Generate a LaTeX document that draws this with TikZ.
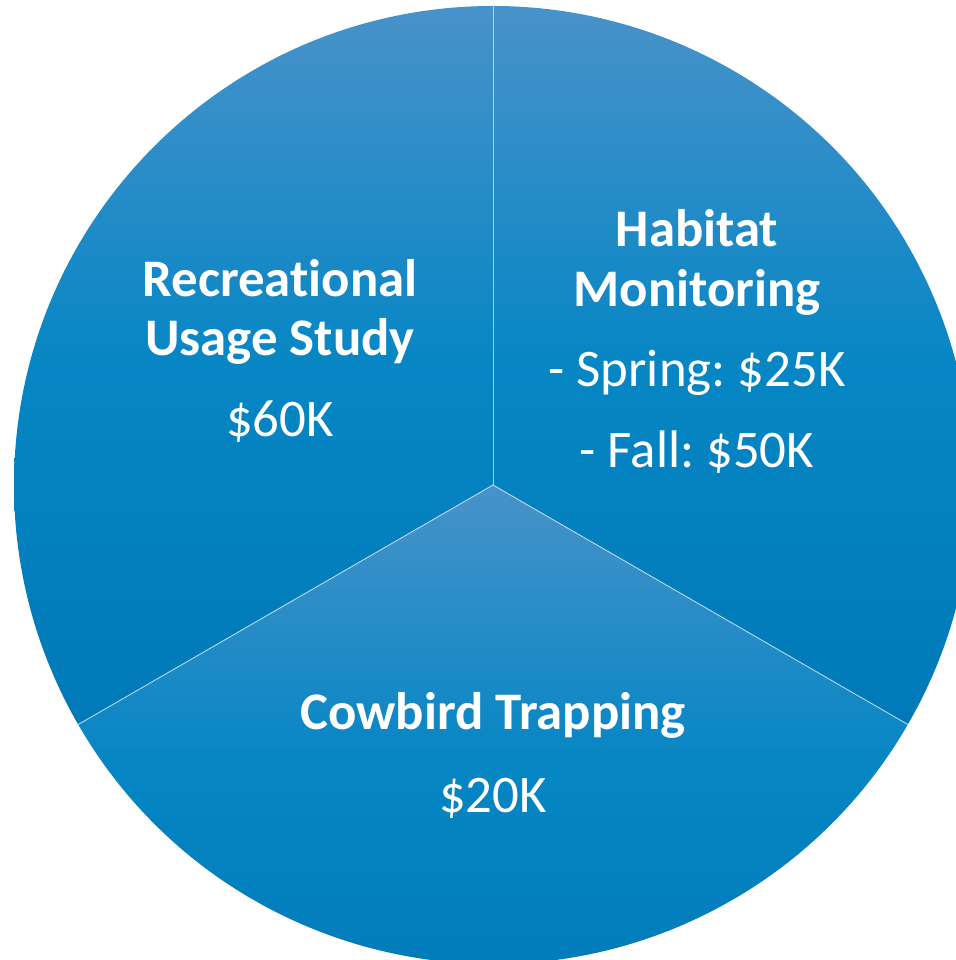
\documentclass[tikz,border=0pt]{standalone}
\usepackage{fontspec}
\setmainfont{Carlito}[Ligatures={NoCommon}, Contextuals={NoAlternate}]
\usetikzlibrary{calc}
\frenchspacing
\definecolor{gtop}{RGB}{72,146,202}
\definecolor{gmid}{RGB}{6,134,196}
\definecolor{gbot}{RGB}{0,121,184}
\tikzset{
  sector/.style={top color=gtop, bottom color=gbot, middle color=gmid},
  sepline/.style={draw=white, draw opacity=0.6, line width=0.75pt},
  title/.style={anchor=base, text=white, font=\fontsize{39.6}{47}\selectfont\bfseries\frenchspacing, inner sep=0pt},
  value/.style={anchor=base, text=white, font=\fontsize{39.6}{47}\selectfont\frenchspacing, inner sep=0pt}
}
\begin{document}
\begin{tikzpicture}[x=0.75pt,y=0.75pt]
\useasboundingbox (0,0) rectangle (956,960);
\clip (0,0) rectangle (956,960);
\coordinate (c) at (493,475);
\shade[sector] (c) -- ++(90:479) arc[start angle=90, end angle=210, radius=479] -- cycle;
\shade[sector] (c) -- ++(-30:479) arc[start angle=-30, end angle=90, radius=479] -- cycle;
\shade[sector] (c) -- ++(210:479) arc[start angle=210, end angle=330, radius=479] -- cycle;
\coordinate (p1) at ($(c)+(90:479)$);
\coordinate (p2) at ($(c)+(210:479)$);
\coordinate (p3) at ($(c)+(330:479)$);
\draw[sepline] (c) -- (p1);
\draw[sepline] (c) -- (p2);
\draw[sepline] (c) -- (p3);
\node[title] (r1) at (280,663) {Recreational};
\node[title] (r2) at (280,604) {Usage Study};
\node[value] (r3) at (280,523) {\$60K};
\node[title] (h1) at (697,713) {Habitat};
\node[title] (h2) at (697,653) {Monitoring};
\node[value] (h3) at (697,573) {- Spring: \$25K};
\node[value] (h4) at (697,492) {- Fall: \$50K};
\node[title] (c1) at (493,230) {Cowbird Trapping};
\node[value] (c2) at (493,147) {\$20K};
\end{tikzpicture}
\end{document}
